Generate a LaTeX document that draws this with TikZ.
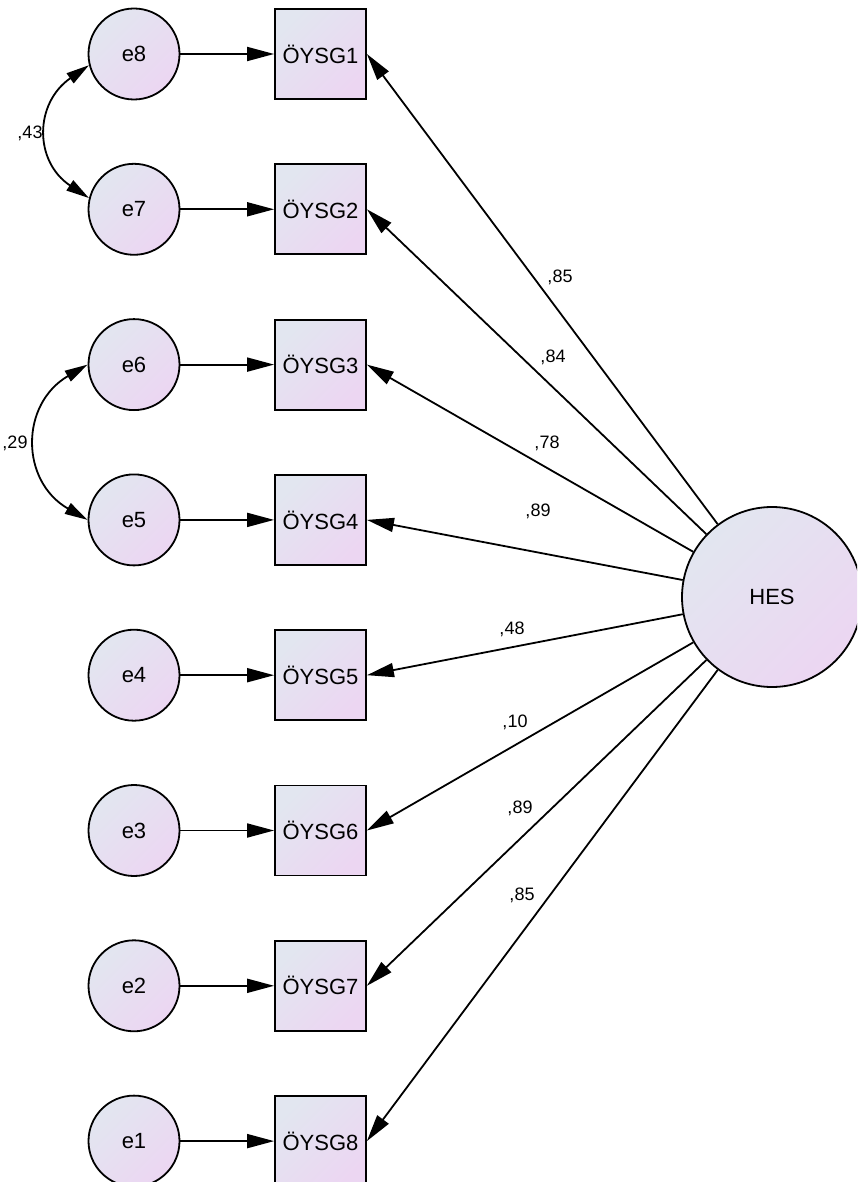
\documentclass[tikz,border=0pt]{standalone}
\usepackage{fontspec}
\setmainfont{Liberation Sans}
\usetikzlibrary{arrows.meta}
\definecolor{cA}{RGB}{226,230,240}
\definecolor{cB}{RGB}{236,214,242}
\begin{document}
\begin{tikzpicture}[x=1pt,y=-1pt,
  fillsh/.style={top color=cA, bottom color=cB, shading angle=45},
  errc/.style={circle, draw, line width=1.8pt, minimum size=91pt, inner sep=0pt, fillsh, font=\fontsize{22}{24}\selectfont},
  obs/.style={rectangle, draw, line width=1.8pt, minimum width=91pt, minimum height=90pt, inner sep=0pt, fillsh, font=\fontsize{22}{24}\selectfont},
  latc/.style={circle, draw, line width=1.8pt, minimum size=180pt, inner sep=0pt, fillsh, font=\fontsize{22}{24}\selectfont},
  pth/.style={line width=1.8pt, -{Triangle[length=27pt,width=14pt]}},
  cov/.style={line width=1.8pt, {Triangle[length=23pt,width=12pt]}-{Triangle[length=23pt,width=12pt]}},
  lbl/.style={font=\fontsize{18}{20}\selectfont, inner sep=0pt}]
\useasboundingbox (0,0) rectangle (857,1182);
\clip (0,0) rectangle (857,1182);
% error terms and observed variables
\foreach \k/\e/\b in {0/8/1,1/7/2,2/6/3,3/5/4,4/4/5,5/3/6,6/2/7,7/1/8}{
  \node[errc] (e\e) at (134,{54+155.3*\k}) {e\e};
  \node[obs] (b\b) at (320.5,{54+155.3*\k}) {ÖYSG\b};
  \draw[pth] (e\e) -- (b\b);
}
\node[latc] (HES) at (772,597) {HES};
\foreach \b in {1,...,8}{
  \draw[pth] (HES) -- (b\b.east);
}
% covariances
\draw[cov] (e8.194) .. controls (34,103.5) and (34,161.5) .. (e7.166);
\draw[cov] (e6.180) .. controls (20,404) and (20,481) .. (e5.180);
\node[lbl] (l43) at (30,133) {,43};
\node[lbl] (l29) at (15,443) {,29};
% loadings
\node[lbl] (m1) at (560,277) {,85};
\node[lbl] (m2) at (553,357) {,84};
\node[lbl] (m3) at (547,443) {,78};
\node[lbl] (m4) at (538,511) {,89};
\node[lbl] (m5) at (512,629) {,48};
\node[lbl] (m6) at (515,722) {,10};
\node[lbl] (m7) at (520,808) {,89};
\node[lbl] (m8) at (522,895) {,85};
\end{tikzpicture}
\end{document}
